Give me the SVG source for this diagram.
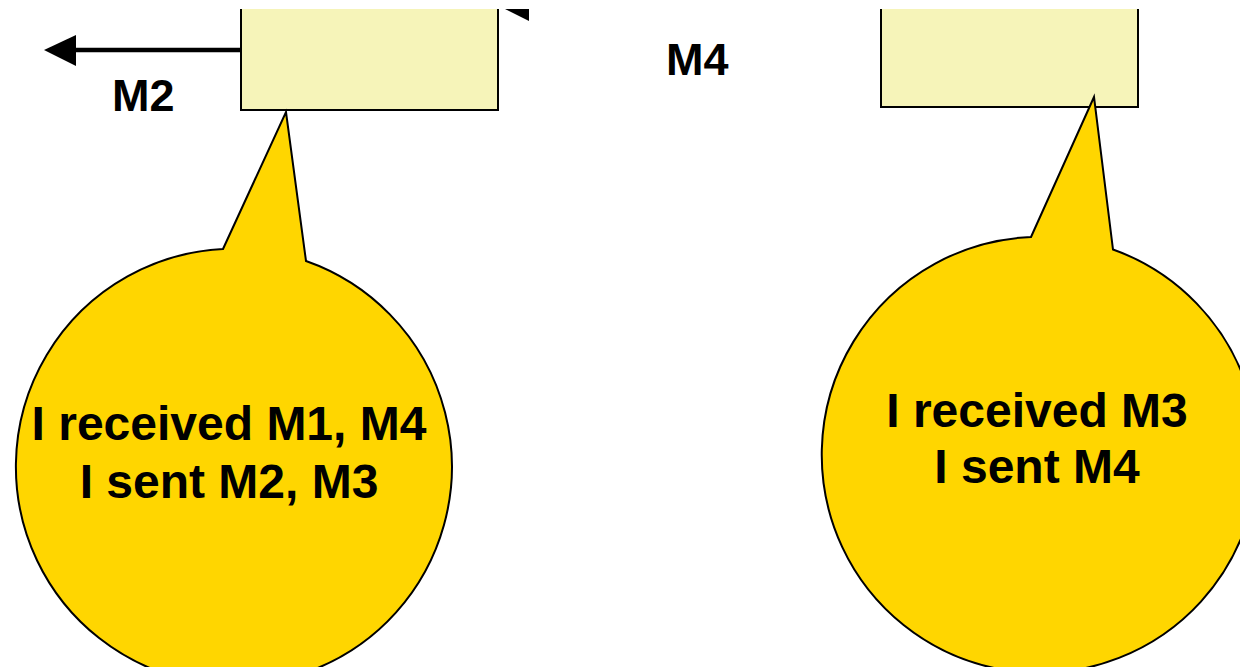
<svg xmlns="http://www.w3.org/2000/svg" width="1240" height="667" viewBox="0 0 1240 667">
  <style>
    .proc { fill: #F6F4B9; stroke: #000; stroke-width: 2; }
    .bubble { fill: #FFD600; stroke: #000; stroke-width: 2; stroke-linejoin: miter; }
    .lbl { font-family: "Liberation Sans", Arial, sans-serif; font-weight: bold; fill: #000; }
    .big { font-size: 48px; text-anchor: middle; }
    .msg { font-size: 45px; }
    .wire { stroke: #000; stroke-width: 4.5; fill: none; }
  </style>
  <defs>
    <clipPath id="frame">
      <rect x="0" y="9" width="1240" height="658"/>
    </clipPath>
  </defs>
  <rect width="1240" height="667" fill="#fff"/>
  <g clip-path="url(#frame)">
    <!-- process boxes -->
    <g id="process-left">
      <rect class="proc" x="241" y="-20" width="257" height="130"/>
    </g>
    <g id="process-right">
      <rect class="proc" x="881" y="-20" width="257" height="127"/>
    </g>

    <!-- message connectors -->
    <g id="connectors">
      <line class="wire" x1="240" y1="50" x2="74" y2="50"/>
      <polygon points="44,50 76,35 76,66" fill="#000"/>
      <polygon points="505,9 529,9 529,21" fill="#000"/>
    </g>

    <!-- message labels -->
    <g id="labels">
      <text class="lbl msg" x="112" y="111">M2</text>
      <text class="lbl msg" x="666" y="75">M4</text>
    </g>

    <!-- speech bubbles -->
    <g id="bubble-left">
      <path class="bubble" d="M223,249 L286,112 L306,261 A218,218 0 1 1 223,249 Z"/>
      <text class="lbl big" x="229" y="440">I received M1, M4</text>
      <text class="lbl big" x="229" y="498">I sent M2, M3</text>
    </g>
    <g id="bubble-right">
      <path class="bubble" d="M1031,237 L1094,97 L1113,249.5 A218,218 0 1 1 1031,237 Z"/>
      <text class="lbl big" x="1037" y="427">I received M3</text>
      <text class="lbl big" x="1037" y="483">I sent M4</text>
    </g>
  </g>
</svg>
